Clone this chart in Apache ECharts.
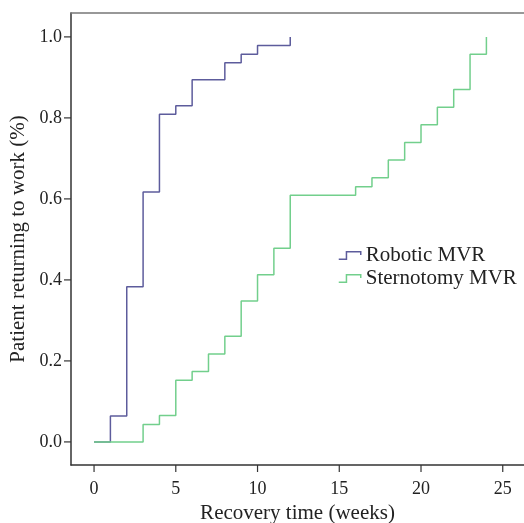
<!DOCTYPE html>
<html>
<head>
<meta charset="utf-8">
<script src="https://cdn.jsdelivr.net/npm/echarts@6/dist/echarts.min.js"></script>
<style>
  html, body { margin: 0; padding: 0; background: #fff; }
  #chart { width: 524px; height: 523px; }
</style>
</head>
<body>
<div id="chart"></div>
<script>
// recovery curves, weeks vs cumulative proportion back at work
const roboticWeeks = [0, 1, 2, 3, 4, 5, 6, 8, 9, 10, 12];
const roboticValues = [0, 0.064, 0.383, 0.617, 0.809, 0.830, 0.894, 0.936, 0.957, 0.979, 1.0];

const sternoWeeks = [0, 3, 4, 5, 6, 7, 8, 9, 10, 11, 12, 16, 17, 18, 19, 20, 21, 22, 23, 24];
const sternoValues = [0, 0.043, 0.065, 0.152, 0.174, 0.217, 0.261, 0.348, 0.413, 0.478, 0.609,
    0.630, 0.652, 0.696, 0.739, 0.783, 0.826, 0.870, 0.957, 1.0];

const xTicks = [0, 5, 10, 15, 20, 25];
const yTicks = [0, 0.2, 0.4, 0.6, 0.8, 1.0];

const xMin = -1.41, xMax = 26.3;
const yMin = -0.057, yMax = 1.059;

const font = '"Liberation Serif", "Times New Roman", serif';
const axisColor = '#333';
const roboticColor = '#5d5c9c';
const sternoColor = '#72cf8c';

const pairs = (xs, ys) => xs.map((x, i) => [x, ys[i]]);

const myChart = echarts.init(document.getElementById('chart'));

const option = {
    animation: false,
    textStyle: { fontFamily: font },
    grid: { left: 71, right: 0, top: 13, bottom: 58, outerBoundsMode: 'none', containLabel: false },
    legend: {
        orient: 'vertical',
        left: 333,
        top: 240,
        itemWidth: 22,
        itemHeight: 8,
        itemGap: 2,
        icon: 'path://M0,8 L7,8 L7,1 L20,1 L20,4',
        textStyle: { fontFamily: font, fontSize: 21, color: '#222', padding: [0, 0, 0, 0] },
        data: [
            { name: 'Robotic MVR', itemStyle: { color: 'transparent', borderColor: roboticColor, borderWidth: 1.5 } },
            { name: 'Sternotomy MVR', itemStyle: { color: 'transparent', borderColor: sternoColor, borderWidth: 1.5 } }
        ]
    },
    xAxis: [{
        type: 'value',
        min: xMin,
        max: xMax,
        name: 'Recovery time (weeks)',
        nameLocation: 'middle',
        nameGap: 35,
        nameTextStyle: { fontFamily: font, fontSize: 21, color: '#222' },
        axisLine: { show: true, onZero: false, lineStyle: { color: axisColor, width: 1.5 } },
        axisTick: { show: false },
        axisLabel: { customValues: xTicks, fontFamily: font, fontSize: 18, color: '#222', margin: 15 },
        splitLine: { show: false }
    }, {
        // top border line
        type: 'value',
        position: 'top',
        min: xMin,
        max: xMax,
        axisLine: { show: true, onZero: false, lineStyle: { color: '#777', width: 1.5 } },
        axisTick: { show: false },
        axisLabel: { show: false },
        splitLine: { show: false }
    }],
    yAxis: {
        type: 'value',
        min: yMin,
        max: yMax,
        name: 'Patient returning to work (%)',
        nameLocation: 'middle',
        nameGap: 41,
        nameTextStyle: { fontFamily: font, fontSize: 21, color: '#222' },
        axisLine: { show: true, onZero: false, lineStyle: { color: axisColor, width: 1.5 } },
        axisTick: { show: false },
        axisLabel: {
            customValues: yTicks,
            fontFamily: font,
            fontSize: 18,
            color: '#222',
            margin: 9,
            formatter: v => v.toFixed(1)
        },
        splitLine: { show: false }
    },
    series: [{
        name: 'Robotic MVR',
        type: 'line',
        step: 'end',
        showSymbol: false,
        color: roboticColor,
        lineStyle: { width: 1.5 },
        data: pairs(roboticWeeks, roboticValues)
    }, {
        name: 'Sternotomy MVR',
        type: 'line',
        step: 'end',
        showSymbol: false,
        color: sternoColor,
        lineStyle: { width: 1.5 },
        data: pairs(sternoWeeks, sternoValues)
    }]
};

myChart.setOption(option);

// tick marks, placed through the axes' own scales
const tickLen = 7;
const axisY = myChart.convertToPixel({ yAxisIndex: 0 }, yMin);
const axisX = myChart.convertToPixel({ xAxisIndex: 0 }, xMin);
const ticks = [];
xTicks.forEach(v => {
    const px = myChart.convertToPixel({ xAxisIndex: 0 }, v);
    ticks.push({ type: 'line', shape: { x1: px, y1: axisY, x2: px, y2: axisY + tickLen },
        style: { stroke: axisColor, lineWidth: 1.2 } });
});
yTicks.forEach(v => {
    const py = myChart.convertToPixel({ yAxisIndex: 0 }, v);
    ticks.push({ type: 'line', shape: { x1: axisX - tickLen, y1: py, x2: axisX, y2: py },
        style: { stroke: axisColor, lineWidth: 1.2 } });
});
myChart.setOption({ graphic: ticks });
</script>
</body>
</html>
